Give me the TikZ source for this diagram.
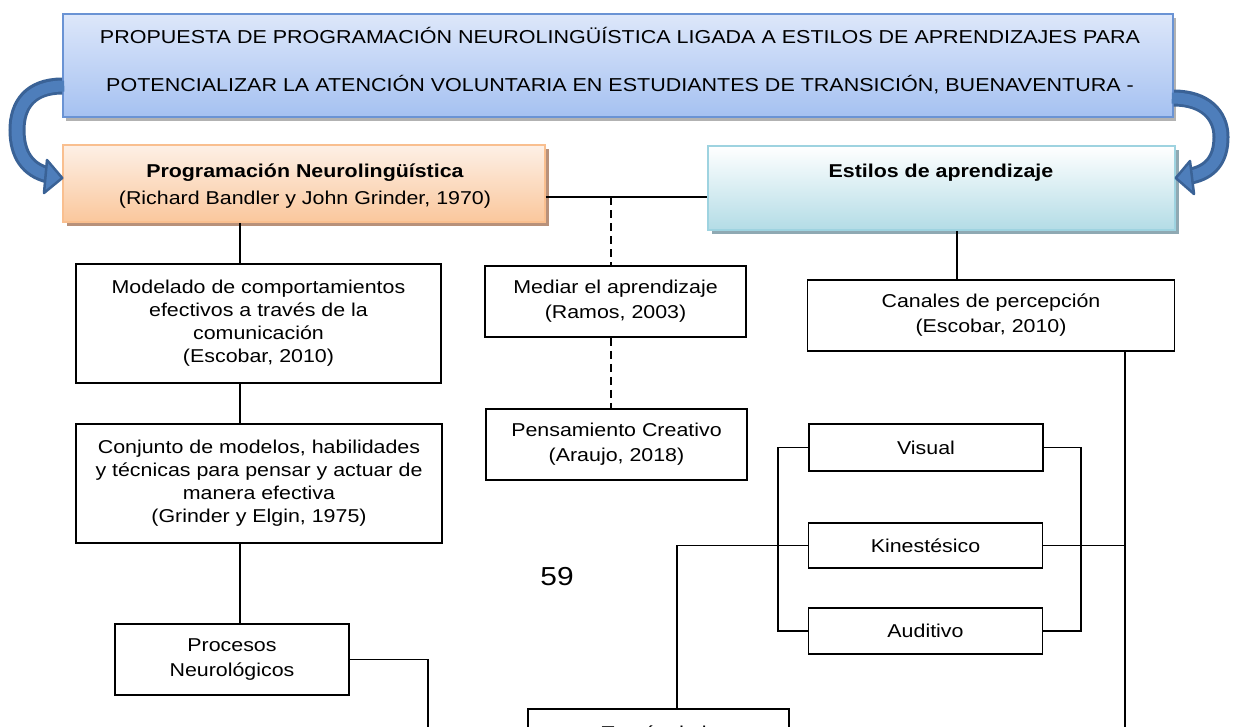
\documentclass[tikz,border=0pt]{standalone}
\usepackage{fontspec}
\setmainfont{Liberation Sans}[FakeStretch=1.15]
\usetikzlibrary{shadows}
\definecolor{titleTop}{HTML}{DDE7FA}
\definecolor{titleBot}{HTML}{A5C1F1}
\definecolor{titleBorder}{HTML}{6A93D4}
\definecolor{pnlTop}{HTML}{FDF0E6}
\definecolor{pnlBot}{HTML}{FAC79C}
\definecolor{pnlBorder}{HTML}{F9BF8F}
\definecolor{pnlShadow}{HTML}{B8917A}
\definecolor{estTop}{HTML}{FFFFFF}
\definecolor{estBot}{HTML}{B3DCE6}
\definecolor{estBorder}{HTML}{9ED3E0}
\definecolor{estShadow}{HTML}{8FA9B3}
\definecolor{arrowDark}{HTML}{3A6296}
\definecolor{arrowFill}{HTML}{4E7EBB}
\newcommand\bodyfs{\fontsize{18.6}{23}\selectfont}
\newcommand\twofs{\fontsize{18.6}{25}\selectfont}
\tikzset{
  box/.style={draw=black, line width=1.6pt, fill=white, inner sep=0pt, align=center, font=\bodyfs},
  twobox/.style={box, font=\twofs},
  conn/.style={draw=black, line width=1.6pt},
  dashconn/.style={conn, dash pattern=on 8pt off 5pt},
  txt/.style={inner sep=0pt, align=center, font=\bodyfs},
  bandout/.style={draw=arrowDark, line width=17pt},
  bandin/.style={draw=arrowFill, line width=11pt},
  headst/.style={fill=arrowFill, draw=arrowDark, line width=2.5pt, line join=round}
}
\begin{document}
\begin{tikzpicture}[x=1pt,y=-1pt]
\useasboundingbox (0,0) rectangle (1233,726);

% top boxes
\node[draw=titleBorder, line width=1.5pt, top color=titleTop, bottom color=titleBot,
      minimum width=1110pt, minimum height=103pt, inner sep=0pt,
      drop shadow={shadow xshift=3pt, shadow yshift=-4pt, fill=black, opacity=0.3}]
      (title) at (618,65.5) {};
\node[txt, font=\fontsize{18.7}{48}\selectfont] (titletxt) at (620,61)
  {PROPUESTA DE PROGRAMACIÓN NEUROLINGÜÍSTICA LIGADA A ESTILOS DE APRENDIZAJES PARA\\
   POTENCIALIZAR LA ATENCIÓN VOLUNTARIA EN ESTUDIANTES DE TRANSICIÓN, BUENAVENTURA -};

\node[draw=pnlBorder, line width=1.5pt, top color=pnlTop, bottom color=pnlBot,
      minimum width=482pt, minimum height=77pt, inner sep=0pt,
      drop shadow={shadow xshift=4pt, shadow yshift=-4pt, fill=pnlShadow, opacity=1}]
      (pnl) at (304,183.5) {};
\node[txt, font=\fontsize{18.6}{27}\selectfont] (pnltxt) at (305,186)
  {\textbf{Programación Neurolingüística}\\(Richard Bandler y John Grinder, 1970)};

\node[draw=estBorder, line width=1.5pt, top color=estTop, bottom color=estBot,
      minimum width=467pt, minimum height=84pt, inner sep=0pt,
      drop shadow={shadow xshift=4pt, shadow yshift=-4pt, fill=estShadow, opacity=1}]
      (estilos) at (941.5,188) {};
\node[txt] (estilostxt) at (941,173) {\textbf{Estilos de aprendizaje}};

% left column
\node[box, minimum width=365pt, minimum height=119pt] (modelado) at (258.5,323.5)
  {Modelado de comportamientos\\efectivos a través de la\\comunicación\\(Escobar, 2010)};
\node[box, minimum width=366pt, minimum height=119pt] (conjunto) at (259,483.5)
  {Conjunto de modelos, habilidades\\y técnicas para pensar y actuar de\\manera efectiva\\(Grinder y Elgin, 1975)};
\node[twobox, minimum width=234pt, minimum height=71pt] (procesos) at (232,659.5)
  {Procesos\\Neurológicos};

% middle column
\node[twobox, minimum width=261pt, minimum height=71pt] (mediar) at (615.5,301.5)
  {Mediar el aprendizaje\\(Ramos, 2003)};
\node[twobox, minimum width=261pt, minimum height=71pt] (pensa) at (616.5,444.5)
  {Pensamiento Creativo\\(Araujo, 2018)};
\node[box, minimum width=261pt, minimum height=71pt] (traves) at (658.5,744.5) {};
\node[txt] (travestxt) at (660,733) {Través de la};

\node[txt, font=\fontsize{26}{30}\selectfont] (num) at (557,577) {59};

% right column
\node[twobox, minimum width=367pt, minimum height=71pt] (canales) at (991,315.5)
  {Canales de percepción\\(Escobar, 2010)};
\node[box, minimum width=234pt, minimum height=47pt] (visual) at (926,447.5) {Visual};
\node[box, minimum width=234pt, minimum height=45pt] (kin) at (925.5,545.5) {Kinestésico};
\node[box, minimum width=234pt, minimum height=46pt] (auditivo) at (925.5,631) {Auditivo};

% coordinates
\coordinate (j1) at (611,197);
\coordinate (cL) at (240,0);
\coordinate (cR) at (957,0);
\coordinate (cV) at (1125,740);
\coordinate (rb) at (1081,0);
\coordinate (lb) at (778,0);
\coordinate (tk) at (677,0);
\coordinate (pd) at (428,740);

% connectors
\draw[conn] (pnl.east |- j1) -- (estilos.west |- j1);
\draw[dashconn] (j1) -- (j1 |- mediar.north);
\draw[dashconn] (j1 |- mediar.south) -- (j1 |- pensa.north);
\draw[conn] (pnl.south -| cL) -- (modelado.north -| cL);
\draw[conn] (modelado.south -| cL) -- (conjunto.north -| cL);
\draw[conn] (conjunto.south -| cL) -- (procesos.north -| cL);
\draw[conn] (procesos.east) -- (procesos.east -| pd) -- (pd);
\draw[conn] (estilos.south -| cR) -- (canales.north -| cR);
\draw[conn] (canales.south -| cV) -- (cV);
\draw[conn] (kin.east) -- (kin.east -| cV);
\draw[conn] (visual.east) -- (visual.east -| rb) -- (auditivo.east -| rb) -- (auditivo.east);
\draw[conn] (visual.west) -- (visual.west -| lb) -- (auditivo.west -| lb) -- (auditivo.west);
\draw[conn] (kin.west) -- (kin.west -| tk) -- (tk |- traves.north);

% curved arrows
\coordinate (la0) at (title.west |- 0,86);
\coordinate (la1) at (48,175);
\draw[bandout] (la0) .. controls (30,86) and (17,105) .. (17,130) .. controls (17,155) and (28,170) .. (la1);
\draw[bandin] ([xshift=2pt]la0) .. controls (30,86) and (17,105) .. (17,130) .. controls (17,155) and (28,170) .. (la1);
\draw[headst] (47,160) -- (pnl.west |- 0,178) -- (44,193) -- cycle;

\coordinate (ra0) at (title.east |- 0,98);
\coordinate (ra1) at (1191,176);
\draw[bandout] (ra0) .. controls (1205,98) and (1221,115) .. (1221,137) .. controls (1221,160) and (1210,172) .. (ra1);
\draw[bandin] ([xshift=-2pt]ra0) .. controls (1205,98) and (1221,115) .. (1221,137) .. controls (1221,160) and (1210,172) .. (ra1);
\draw[headst] (1190,161) -- (estilos.east |- 0,178) -- (1194,194) -- cycle;
\end{tikzpicture}
\end{document}
